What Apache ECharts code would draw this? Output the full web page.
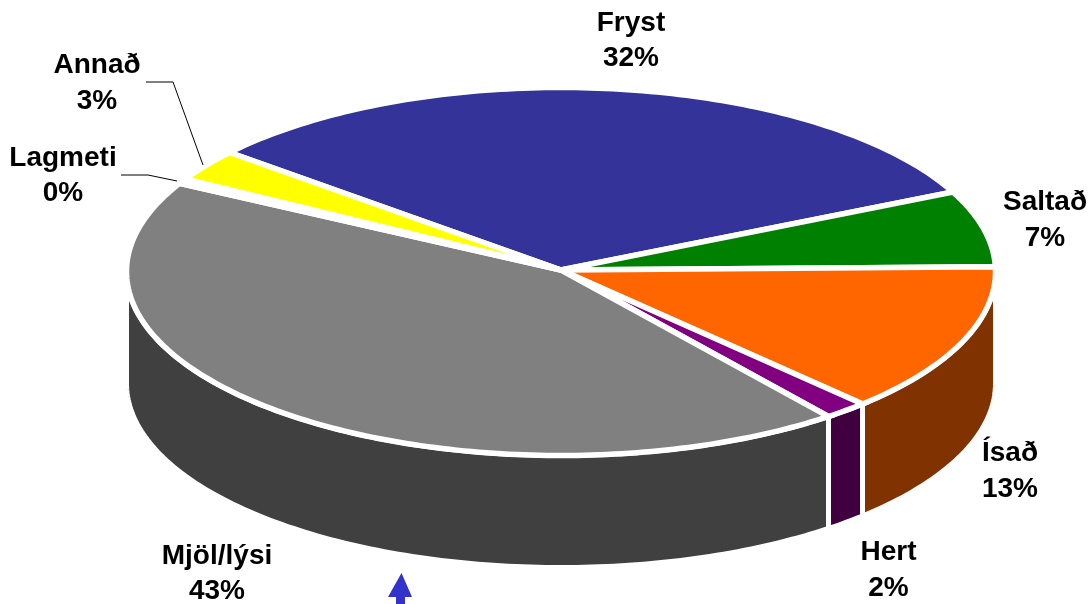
<!DOCTYPE html>
<html>
<head>
<meta charset="utf-8">
<style>html,body{margin:0;padding:0;background:#fff}#c{width:1091px;height:604px}</style>
<script src="https://cdn.jsdelivr.net/npm/echarts@6/dist/echarts.min.js"></script>
</head>
<body>
<div id="c"></div>
<script>
// Data
const categories = ['Fryst', 'Saltað', 'Ísað', 'Hert', 'Mjöl/lýsi', 'Lagmeti', 'Annað'];
const values = [31.7, 6.7, 13.2, 1.65, 43.5, 0.45, 2.8];
const percentLabels = ['32%', '7%', '13%', '2%', '43%', '0%', '3%'];
// Styles
const topColors = ['#333399', '#008000', '#FF6600', '#800080', '#808080', '#FFFFFF', '#FFFF00'];
const sideColors = ['#1A1A4D', '#004000', '#803300', '#400040', '#404040', '#FFFFFF', '#808000'];
// Layout
const pieCx = 561, hubCy = 270, rimCy = 271.5, radX = 434.5, radY = 184, depth = 112, startDeg = -49.7;
const labelCx = [631, 1045, 1010, 888.5, 217, 63, 97];
const labelCy = [41, 220.5, 471.5, 570.5, 574, 176, 83.5];
const leaders = {
  5: [[121, 175], [148, 175], [177, 181]],
  6: [[146, 82], [173, 82], [203, 165]]
};

const total = values.reduce((a, b) => a + b, 0);
const startAngles = [];
values.reduce((acc, v, i) => { startAngles[i] = acc; return acc + v / total * 360; }, startDeg);

function rimPoint(deg, dy) {
  const r = deg * Math.PI / 180;
  return [pieCx + radX * Math.sin(r), rimCy - radY * Math.cos(r) + (dy || 0)];
}
function arc(a0, a1, dy) {
  const pts = [];
  const n = Math.max(1, Math.ceil(Math.abs(a1 - a0)));
  for (let k = 0; k <= n; k++) pts.push(rimPoint(a0 + (a1 - a0) * k / n, dy));
  return pts;
}
function renderSide(params, api) {
  const i = params.dataIndex, v = api.value(1);
  const a0 = Math.max(startAngles[i], 90);
  const a1 = Math.min(startAngles[i] + v / total * 360, 270);
  if (a1 <= a0) return { type: 'group', children: [] };
  const points = arc(a0, a1, 0).concat(arc(a1, a0, depth));
  return {
    type: 'polygon', shape: { points },
    style: { fill: sideColors[i], stroke: '#fff', lineWidth: 5, lineJoin: 'miter' }
  };
}
function renderTop(params, api) {
  const i = params.dataIndex, v = api.value(1);
  const a0 = startAngles[i], a1 = a0 + v / total * 360;
  const points = [[pieCx, hubCy]].concat(arc(a0, a1, 0));
  return {
    type: 'polygon', shape: { points },
    style: { fill: topColors[i], stroke: '#fff', lineWidth: 5.5, lineJoin: 'miter', miterLimit: 3 }
  };
}
function renderLabel(params) {
  const i = params.dataIndex;
  const children = [{
    type: 'text',
    style: {
      text: categories[i] + '\n' + percentLabels[i],
      x: labelCx[i], y: labelCy[i],
      align: 'center', verticalAlign: 'middle',
      font: 'bold 28px "Liberation Sans", Arial, sans-serif',
      lineHeight: 35.5, fill: '#000'
    }
  }];
  if (leaders[i]) children.push({
    type: 'polyline', shape: { points: leaders[i] },
    style: { fill: 'none', stroke: '#000', lineWidth: 1 }
  });
  return { type: 'group', children };
}

const rows = categories.map((c, i) => [c, values[i]]);
const chart = echarts.init(document.getElementById('c'), null, { renderer: 'canvas' });
chart.setOption({
  animation: false,
  backgroundColor: '#fff',
  series: [
    { type: 'custom', coordinateSystem: 'none', renderItem: renderSide, data: rows, z: 1, silent: true },
    { type: 'custom', coordinateSystem: 'none', renderItem: renderTop, data: rows, z: 2, silent: true },
    { type: 'custom', coordinateSystem: 'none', renderItem: renderLabel, data: rows, z: 3, silent: true }
  ],
  graphic: [{
    type: 'polygon', z: 4, silent: true,
    shape: { points: [[401.5, 573], [412, 597], [405, 597], [405, 604], [396, 604], [396, 597], [388, 597]] },
    style: { fill: '#3333CC' }
  }]
});
</script>
</body>
</html>
